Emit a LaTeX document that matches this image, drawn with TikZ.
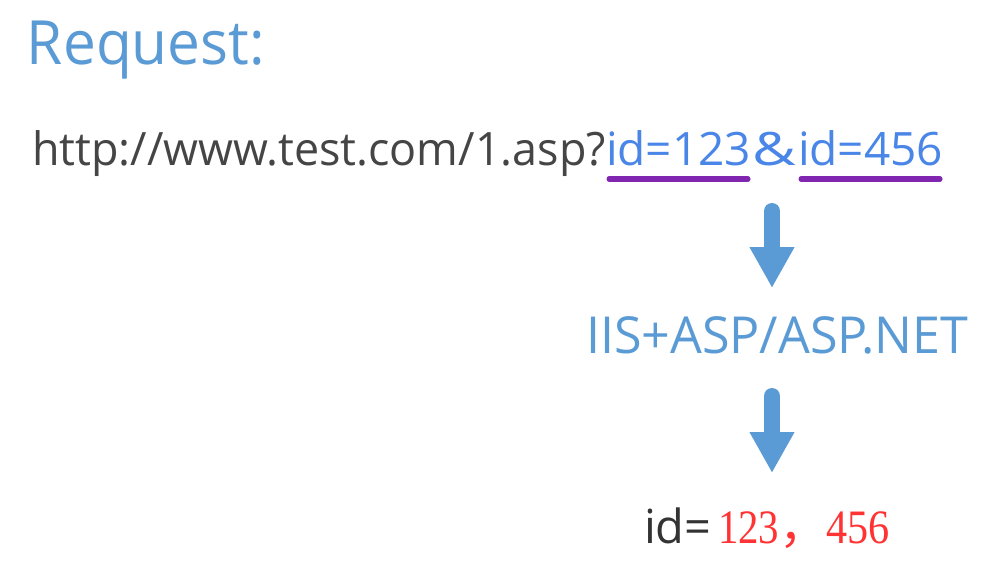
\documentclass[tikz,border=0pt]{standalone}
\usepackage{fontspec}
\setmainfont{Open Sans}
\newfontfamily\serifdigits{Liberation Serif}
\newfontfamily\cjk{Noto Sans CJK SC}
\usetikzlibrary{arrows.meta,calc}
\definecolor{titleblue}{HTML}{5B9BD5}
\definecolor{urlgrey}{HTML}{454545}
\definecolor{idblue}{HTML}{4A86E8}
\definecolor{ulpurple}{HTML}{8026B0}
\definecolor{resred}{HTML}{FF3333}
\definecolor{darktext}{HTML}{333333}
\tikzset{
  txt/.style={anchor=base west, inner sep=0pt, outer sep=0pt},
  bigarrow/.style={draw=titleblue, line width=16pt, line cap=round,
    -{Triangle[width=42pt,length=41pt]}},
  uline/.style={draw=ulpurple, line width=5pt, line cap=round}
}
\begin{document}
\begin{tikzpicture}[x=1pt,y=-1pt]
\useasboundingbox[fill=white] (0,0) rectangle (1000,572);
% title
\node[txt, text=titleblue, font=\fontsize{61}{68}\selectfont] (title) at (27,65) {\scalebox{0.96}[1]{Request:}};
% URL line
\node[txt, text=urlgrey, font=\fontsize{46}{52}\selectfont] (urlA) at (32,165) {\scalebox{0.975}[1]{http://www.test.com/1.asp?}};
\node[txt, text=idblue, font=\fontsize{46}{52}\selectfont] (id1) at (606,165) {id=123};
\node[txt, text=idblue, font=\fontsize{46}{52}\selectfont] (amp) at (752,165) {\scalebox{1.3}[1]{\&}};
\node[txt, text=idblue, font=\fontsize{46}{52}\selectfont] (id2) at (798,165) {id=456};
% underlines
\draw[uline] ($(id1.base west)+(3,14)$) -- ($(id1.base east)+(-3,14)$);
\draw[uline] ($(id2.base west)+(3,14)$) -- ($(id2.base east)+(-3,14)$);
% server
\node[txt, text=titleblue, font=\fontsize{51}{57}\selectfont] (iis) at (586,353) {\scalebox{0.985}[1]{IIS+ASP/ASP.NET}};
% result
\node[txt, text=darktext, font=\fontsize{47}{52}\selectfont] (res) at (644,543) {id=};
\node[txt, text=resred, font=\fontsize{48}{54}\serifdigits] (r1) at (718,543) {\scalebox{0.85}[1]{123}{\cjk ，}};
\node[txt, text=resred, font=\fontsize{48}{54}\serifdigits] (r2) at (826,543) {\scalebox{0.88}[1]{456}};
% arrows
\coordinate (a1s) at (772,211);
\coordinate (a1e) at (772,288);
\coordinate (a2s) at (772,396);
\coordinate (a2e) at (772,473);
\draw[bigarrow] (a1s) -- (a1e);
\draw[bigarrow] (a2s) -- (a2e);
\end{tikzpicture}
\end{document}
